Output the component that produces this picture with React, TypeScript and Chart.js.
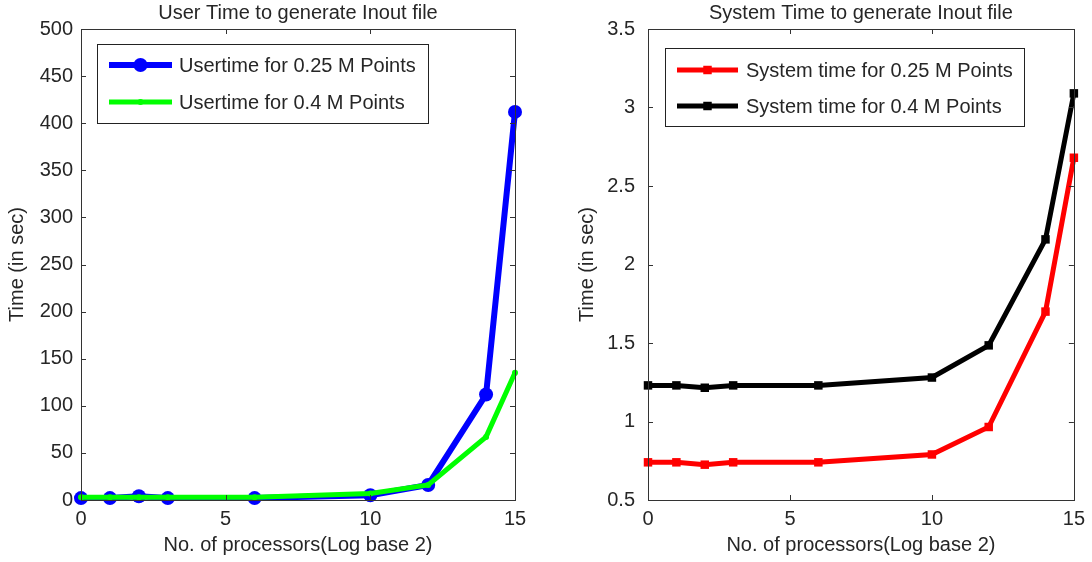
import React, { useEffect, useRef } from 'react';
import { Chart, registerables } from 'chart.js';

Chart.register(...registerables);

// ---- data ----
const processorsLog2 = [0, 1, 2, 3, 6, 10, 12, 14, 15];
const userTime025 = [2, 2, 4, 2, 2, 5, 16, 112, 412];
const userTime04 = [3, 3, 3, 3, 3, 7, 16, 67, 135];
const sysTime025 = [0.74, 0.74, 0.725, 0.74, 0.74, 0.79, 0.965, 1.7, 2.68];
const sysTime04 = [1.23, 1.23, 1.215, 1.23, 1.23, 1.28, 1.485, 2.16, 3.09];
const xTicks = [0, 5, 10, 15];
const userYTicks = [0, 50, 100, 150, 200, 250, 300, 350, 400, 450, 500];
const sysYTicks = [0.5, 1, 1.5, 2, 2.5, 3, 3.5];

const FONT = "'Liberation Sans', Arial, Helvetica, sans-serif";
const TEXT = '#262626';

const toPoints = (ys: number[]) => processorsLog2.map((x, i) => ({ x, y: ys[i] }));

function drawMarker(ctx: CanvasRenderingContext2D, style: string, x: number, y: number, r: number, color: string) {
  ctx.save();
  ctx.fillStyle = color;
  ctx.beginPath();
  if (style === 'rect') {
    const h = r * Math.SQRT1_2;
    ctx.rect(x - h, y - h, 2 * h, 2 * h);
  } else {
    ctx.arc(x, y, r, 0, Math.PI * 2);
  }
  ctx.fill();
  ctx.restore();
}

const matlabPlugin = {
  id: 'matlabFrame',
  afterDraw(chart: any, _args: any, opts: any) {
    const ctx: CanvasRenderingContext2D = chart.ctx;
    const { left, right, top, bottom } = chart.chartArea;
    const xs = chart.scales.x;
    const ys = chart.scales.y;
    ctx.save();
    // frame
    ctx.strokeStyle = '#333';
    ctx.lineWidth = 1;
    ctx.strokeRect(Math.round(left) + 0.5, Math.round(top) + 0.5, Math.round(right - left), Math.round(bottom - top));
    // inward ticks
    const tl = 5;
    ctx.beginPath();
    xs.ticks.forEach((t: any) => {
      const px = Math.round(xs.getPixelForValue(t.value)) + 0.5;
      ctx.moveTo(px, bottom); ctx.lineTo(px, bottom - tl);
      ctx.moveTo(px, top); ctx.lineTo(px, top + tl);
    });
    ys.ticks.forEach((t: any) => {
      const py = Math.round(ys.getPixelForValue(t.value)) + 0.5;
      ctx.moveTo(left, py); ctx.lineTo(left + tl, py);
      ctx.moveTo(right, py); ctx.lineTo(right - tl, py);
    });
    ctx.stroke();
    // title
    ctx.fillStyle = TEXT;
    ctx.font = `20px ${FONT}`;
    ctx.textAlign = 'center';
    ctx.textBaseline = 'middle';
    ctx.fillText(opts.title, (left + right) / 2, 13);
    // legend
    const lg = opts.legend;
    const bx = Math.round(left + lg.dx);
    const by = Math.round(top + lg.dy);
    ctx.fillStyle = '#fff';
    ctx.fillRect(bx, by, lg.w, lg.h);
    ctx.strokeStyle = '#222';
    ctx.lineWidth = 1;
    ctx.strokeRect(bx + 0.5, by + 0.5, lg.w, lg.h);
    chart.data.datasets.forEach((ds: any, i: number) => {
      const y = by + lg.row0 + i * lg.rowGap;
      const x0 = bx + lg.lineX0;
      const x1 = x0 + lg.lineLen;
      ctx.strokeStyle = ds.borderColor;
      ctx.lineWidth = ds.borderWidth;
      ctx.beginPath();
      ctx.moveTo(x0, y);
      ctx.lineTo(x1, y);
      ctx.stroke();
      drawMarker(ctx, ds.pointStyle, (x0 + x1) / 2, y, ds.pointRadius, ds.borderColor);
      ctx.fillStyle = TEXT;
      ctx.font = `20px ${FONT}`;
      ctx.textAlign = 'left';
      ctx.textBaseline = 'middle';
      ctx.fillText(ds.label, bx + lg.textX, y + 1);
    });
    ctx.restore();
  },
};

function makeConfig(p: any) {
  return {
    type: 'line',
    data: { datasets: p.datasets },
    options: {
      animation: false,
      responsive: false,
      layout: { padding: { top: 29, right: p.padRight, left: p.padLeft, bottom: 0 } },
      plugins: {
        legend: { display: false },
        tooltip: { enabled: false },
        title: { display: false },
        matlabFrame: { title: p.title, legend: p.legend },
      },
      scales: {
        x: {
          type: 'linear',
          min: 0,
          max: 15,
          afterBuildTicks: (s: any) => { s.ticks = xTicks.map((v) => ({ value: v })); },
          afterFit: (s: any) => { s.height = 62; },
          grid: { display: false, drawTicks: false },
          border: { display: false },
          ticks: { padding: 7, color: TEXT, font: { family: FONT, size: 20 }, maxRotation: 0, callback: (v: any) => String(v) },
          title: { display: true, text: 'No. of processors(Log base 2)', color: TEXT, font: { family: FONT, size: 20 }, padding: { top: 0, bottom: 5 } },
        },
        y: {
          type: 'linear',
          min: p.yMin,
          max: p.yMax,
          afterBuildTicks: (s: any) => { s.ticks = p.yTicks.map((v: number) => ({ value: v })); },
          afterFit: (s: any) => { s.width = p.yWidth; },
          grid: { display: false, drawTicks: false },
          border: { display: false },
          ticks: { padding: p.yPad, color: TEXT, font: { family: FONT, size: 20 }, callback: (v: any) => String(v) },
          title: { display: true, text: 'Time (in sec)', color: TEXT, font: { family: FONT, size: 20 }, padding: { top: 5, bottom: 0 } },
        },
      },
    },
    plugins: [matlabPlugin],
  };
}

function ChartBox({ config }: { config: any }) {
  const ref = useRef<HTMLCanvasElement | null>(null);
  useEffect(() => {
    if (!ref.current) return;
    const chart = new Chart(ref.current, config);
    return () => chart.destroy();
  }, [config]);
  return <canvas ref={ref} width={546} height={562} style={{ width: 546, height: 562, display: 'block' }} />;
}

const leftConfig = makeConfig({
  title: 'User Time to generate Inout file',
  padLeft: 0,
  padRight: 31,
  yWidth: 81,
  yPad: 8,
  yMin: 0,
  yMax: 500,
  yTicks: userYTicks,
  legend: { dx: 16, dy: 15, w: 331, h: 79, row0: 21, rowGap: 37, lineX0: 12, lineLen: 63, textX: 82 },
  datasets: [
    {
      label: 'Usertime for 0.25 M Points',
      data: toPoints(userTime025),
      borderColor: '#0000ff',
      backgroundColor: '#0000ff',
      borderWidth: 6,
      pointStyle: 'circle',
      pointRadius: 7,
      pointBorderWidth: 0,
      clip: false,
      order: 1,
    },
    {
      label: 'Usertime for 0.4 M Points',
      data: toPoints(userTime04),
      borderColor: '#00ff00',
      backgroundColor: '#00ff00',
      borderWidth: 5,
      pointStyle: 'circle',
      pointRadius: 3,
      pointBorderWidth: 0,
      clip: false,
      order: 0,
    },
  ],
});

const rightConfig = makeConfig({
  title: 'System Time to generate Inout file',
  padLeft: 24,
  padRight: 17,
  yWidth: 78,
  yPad: 13,
  yMin: 0.5,
  yMax: 3.5,
  yTicks: sysYTicks,
  legend: { dx: 17, dy: 19, w: 359, h: 78, row0: 22, rowGap: 36, lineX0: 12, lineLen: 61, textX: 81 },
  datasets: [
    {
      label: 'System time for 0.25 M Points',
      data: toPoints(sysTime025),
      borderColor: '#ff0000',
      backgroundColor: '#ff0000',
      borderWidth: 5,
      pointStyle: 'rect',
      pointRadius: 6,
      pointBorderWidth: 0,
      clip: false,
    },
    {
      label: 'System time for 0.4 M Points',
      data: toPoints(sysTime04),
      borderColor: '#000000',
      backgroundColor: '#000000',
      borderWidth: 5,
      pointStyle: 'rect',
      pointRadius: 6,
      pointBorderWidth: 0,
      clip: false,
    },
  ],
});

export default function App() {
  return (
    <div style={{ position: 'absolute', left: 0, top: 0, width: 1092, height: 562, background: '#fff', display: 'flex' }}>
      <ChartBox config={leftConfig} />
      <ChartBox config={rightConfig} />
    </div>
  );
}
